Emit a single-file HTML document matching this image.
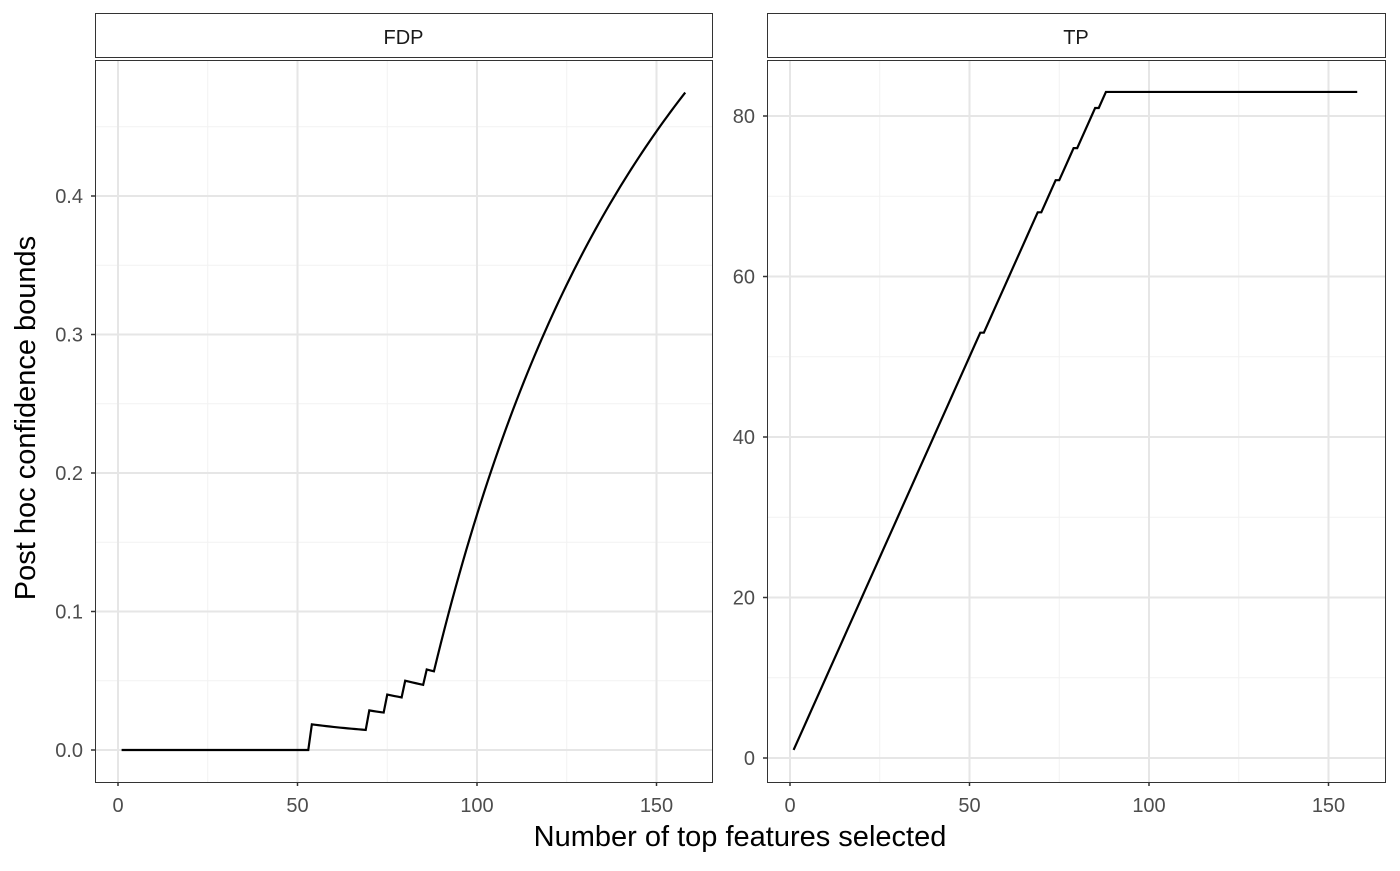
<!DOCTYPE html>
<html><head><meta charset="utf-8"><style>
html,body{margin:0;padding:0;background:#fff;}
svg text{font-family:"Liberation Sans",Arial,sans-serif;}
</style></head><body>
<svg id="chart" width="1400" height="866" xmlns="http://www.w3.org/2000/svg"></svg>
<script>
const tpValues=[1,2,3,4,5,6,7,8,9,10,11,12,13,14,15,16,17,18,19,20,21,22,23,24,25,26,27,28,29,30,31,32,33,34,35,36,37,38,39,40,41,42,43,44,45,46,47,48,49,50,51,52,53,53,54,55,56,57,58,59,60,61,62,63,64,65,66,67,68,68,69,70,71,72,72,73,74,75,76,76,77,78,79,80,81,81,82,83,83,83,83,83,83,83,83,83,83,83,83,83,83,83,83,83,83,83,83,83,83,83,83,83,83,83,83,83,83,83,83,83,83,83,83,83,83,83,83,83,83,83,83,83,83,83,83,83,83,83,83,83,83,83,83,83,83,83,83,83,83,83,83,83,83,83,83,83,83,83];
const fdpValues=tpValues.map((t,i)=>1-t/(i+1));
const xTicks=[0,50,100,150];
const xMinor=[25,75,125];
const fdpTicks=[0,0.1,0.2,0.3,0.4];
const fdpMinor=[0.05,0.15,0.25,0.35,0.45];
const tpTicks=[0,20,40,60,80];
const tpMinor=[10,30,50,70];
const NS="http://www.w3.org/2000/svg";
const svgEl=document.getElementById('chart');
function mk(tag,attrs,parent){const e=document.createElementNS(NS,tag);for(const k in attrs)e.setAttribute(k,attrs[k]);(parent||svgEl).appendChild(e);return e;}
const panels=[
 {name:'fdp',title:'FDP',x0:95,x1:712,vals:fdpValues,ticks:fdpTicks,minor:fdpMinor,
  sx:v=>118+v*3.59,sy:v=>750-v*1385,fmt:v=>v.toFixed(1)},
 {name:'tp',title:'TP',x0:767,x1:1385,vals:tpValues,ticks:tpTicks,minor:tpMinor,
  sx:v=>790+v*3.59,sy:v=>758-v*8.025,fmt:v=>String(v)}
];
const plotTop=60,plotBot=782;
panels.forEach(p=>{
 const g=mk('g',{});
 
 
 const s=mk('rect',{x:p.x0+0.5,y:13.5,width:p.x1-p.x0,height:44,fill:'#fff',stroke:'#333','stroke-width':1},g);
 
 
 const st=mk('text',{x:(p.x0+p.x1)/2,y:44,'text-anchor':'middle','font-size':20,fill:'#1a1a1a'},g);
 st.textContent=p.title;
 
 
 p.minor.forEach(v=>{const y=p.sy(v);mk('line',{x1:p.x0,x2:p.x1,y1:y,y2:y,stroke:'#f2f2f2','stroke-width':1},g);});
 xMinor.forEach(v=>{const x=p.sx(v);mk('line',{x1:x,x2:x,y1:plotTop,y2:plotBot,stroke:'#f2f2f2','stroke-width':1},g);});
 p.ticks.forEach(v=>{const y=p.sy(v);mk('line',{x1:p.x0,x2:p.x1,y1:y,y2:y,stroke:'#e6e6e6','stroke-width':2},g);
  mk('line',{x1:p.x0-4,x2:p.x0,y1:y,y2:y,stroke:'#333','stroke-width':1.5},g);
  const t=mk('text',{x:p.x0-12,y:y+7,'text-anchor':'end','font-size':20,fill:'#4d4d4d'},g);t.textContent=p.fmt(v);
  
  });
 xTicks.forEach(v=>{const x=p.sx(v);mk('line',{x1:x,x2:x,y1:plotTop,y2:plotBot,stroke:'#e6e6e6','stroke-width':2},g);
  mk('line',{x1:x,x2:x,y1:plotBot,y2:plotBot+4,stroke:'#333','stroke-width':1.5},g);
  const t=mk('text',{x:x,y:812,'text-anchor':'middle','font-size':20,fill:'#4d4d4d'},g);t.textContent=v;
  
  });
 const d=p.vals.map((v,i)=>(i?'L':'M')+p.sx(i+1).toFixed(2)+','+p.sy(v).toFixed(2)).join('');
 const l=mk('path',{d:d,fill:'none',stroke:'#000','stroke-width':2.2},g);
 
 
 const b=mk('rect',{x:p.x0+0.5,y:plotTop+0.5,width:p.x1-p.x0,height:plotBot-plotTop,fill:'none',stroke:'#333','stroke-width':1},g);
 
 
});
const xt=mk('text',{x:740,y:846,'text-anchor':'middle','font-size':29,fill:'#000'});
xt.textContent='Number of top features selected';


const yt=mk('text',{x:0,y:0,'text-anchor':'middle','font-size':29,fill:'#000',transform:'translate(35,418) rotate(-90)'});
yt.textContent='Post hoc confidence bounds';


</script>
</body></html>
